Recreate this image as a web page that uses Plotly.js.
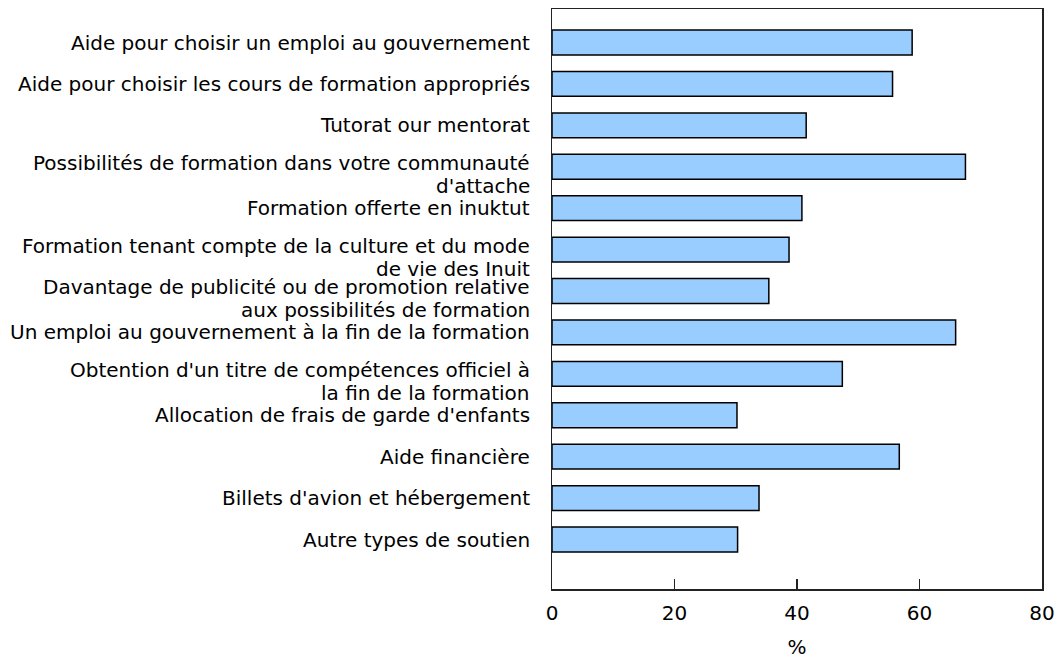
<!DOCTYPE html>
<html>
<head>
<meta charset="utf-8">
<script src="https://cdn.plot.ly/plotly-3.0.1.min.js"></script>
<style>html,body{margin:0;padding:0;background:#fff;}#chart{width:1056px;height:659px;}</style>
</head>
<body>
<div id="chart"></div>
<script>
var categories = [
  "Aide pour choisir un emploi au gouvernement",
  "Aide pour choisir les cours de formation appropriés",
  "Tutorat our mentorat",
  "Possibilités de formation dans votre communauté<br>d'attache",
  "Formation offerte en inuktut",
  "Formation tenant compte de la culture et du mode<br>de vie des Inuit",
  "Davantage de publicité ou de promotion relative<br>aux possibilités de formation",
  "Un emploi au gouvernement à la fin de la formation",
  "Obtention d'un titre de compétences officiel à<br>la fin de la formation",
  "Allocation de frais de garde d'enfants",
  "Aide financière",
  "Billets d'avion et hébergement",
  "Autre types de soutien"
];
var values = [58.8, 55.6, 41.5, 67.5, 40.8, 38.7, 35.4, 65.9, 47.4, 30.2, 56.7, 33.8, 30.3];
var xTickVals = [0, 20, 40, 60, 80];
var xTitle = "%";

var FONT = "DejaVu Sans, Verdana, sans-serif";
var FS = 20;

var annotations = [];
categories.forEach(function (cat) {
  var lines = cat.split("<br>");
  var lift = lines.length > 1 ? 4 : 0;
  lines.forEach(function (line, k) {
    annotations.push({
      xref: "paper", yref: "y",
      x: 0, y: cat,
      xanchor: "right", yanchor: "middle",
      xshift: -20, yshift: lift - 23 * k,
      text: line, showarrow: false, align: "right",
      font: {family: FONT, size: FS, color: "#000"}
    });
  });
});

var trace = {
  type: "bar",
  orientation: "h",
  y: categories,
  x: values,
  width: 0.6,
  marker: {color: "#99ccff", line: {color: "#000", width: 1.5}},
  hoverinfo: "x+y"
};

var layout = {
  width: 1056, height: 659,
  margin: {l: 552, r: 14, t: 9, b: 70, pad: 0},
  paper_bgcolor: "#fff", plot_bgcolor: "#fff",
  showlegend: false,
  font: {family: FONT, size: FS, color: "#000"},
  xaxis: {
    range: [0, 80],
    tickvals: xTickVals,
    ticks: "inside", ticklen: 10, tickwidth: 1.5, tickcolor: "#222",
    ticklabelstandoff: 5,
    showgrid: false, zeroline: false,
    showline: true, linecolor: "#222", linewidth: 1.5, mirror: true,
    tickfont: {family: FONT, size: FS, color: "#000"},
    title: {text: xTitle, font: {family: FONT, size: FS, color: "#000"}, standoff: 24}
  },
  yaxis: {
    type: "category",
    range: [categories.length - 1 + 1.195, -0.809],
    showticklabels: false, ticks: "",
    showgrid: false, zeroline: false,
    showline: true, linecolor: "#222", linewidth: 1.5, mirror: true
  },
  annotations: annotations
};

Plotly.newPlot("chart", [trace], layout, {displayModeBar: false, staticPlot: true});
</script>
</body>
</html>
